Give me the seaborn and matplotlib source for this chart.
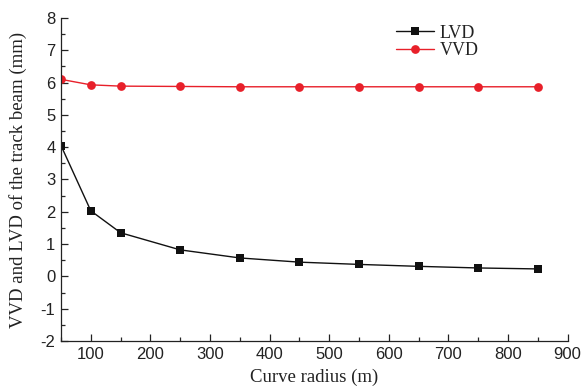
import matplotlib
matplotlib.use("Agg")
import matplotlib.pyplot as plt
from matplotlib.ticker import MultipleLocator
import seaborn as sns
import pandas as pd

radius = [50, 100, 150, 250, 350, 450, 550, 650, 750, 850]
lvd = [4.05, 2.03, 1.35, 0.82, 0.57, 0.44, 0.37, 0.31, 0.26, 0.23]
vvd = [6.10, 5.93, 5.89, 5.88, 5.87, 5.87, 5.87, 5.87, 5.87, 5.87]

df = pd.DataFrame({"radius": radius + radius,
                   "value": lvd + vvd,
                   "series": ["LVD"] * len(radius) + ["VVD"] * len(radius)})

sns.set_style("ticks")
plt.rcParams["font.family"] = ["Liberation Sans", "DejaVu Sans"]
plt.rcParams["axes.unicode_minus"] = False

fig = plt.figure(figsize=(5.81, 3.91), dpi=100)
ax = fig.add_axes([0.105, 0.128, 0.872, 0.826])

sns.lineplot(data=df, x="radius", y="value", hue="series", style="series",
             palette={"LVD": "#111111", "VVD": "#e8202a"},
             markers={"LVD": "s", "VVD": "o"}, dashes=False,
             markersize=6.3, markeredgewidth=0, linewidth=1.0, ax=ax)

ax.set_xlim(50, 900)
ax.set_ylim(-2, 8)
ax.xaxis.set_major_locator(MultipleLocator(100))
ax.xaxis.set_minor_locator(MultipleLocator(50))
ax.yaxis.set_major_locator(MultipleLocator(1))
ax.yaxis.set_minor_locator(MultipleLocator(0.5))
ax.tick_params(which="major", direction="in", length=5, width=0.9, labelsize=12,
               colors="#222222", pad=4)
ax.tick_params(which="minor", direction="in", length=3, width=0.9)
for s in ["top", "right"]:
    ax.spines[s].set_visible(False)
for s in ["left", "bottom"]:
    ax.spines[s].set_linewidth(0.9)
    ax.spines[s].set_color("#222222")

serif = ["Liberation Serif", "DejaVu Serif"]
ax.set_xlabel("Curve radius (m)", family=serif, fontsize=13.5, color="#222222", labelpad=5)
ax.set_ylabel("VVD and LVD of the track beam (mm)", family=serif, fontsize=13.5,
              color="#222222", labelpad=10)

leg = ax.legend(loc="upper left", bbox_to_anchor=(0.63, 1.03), frameon=False,
                prop={"family": serif, "size": 13}, handlelength=2.1,
                handletextpad=0.3, labelspacing=0.05)
for t in leg.get_texts():
    t.set_color("#222222")

fig.savefig("out.png", dpi=100)
